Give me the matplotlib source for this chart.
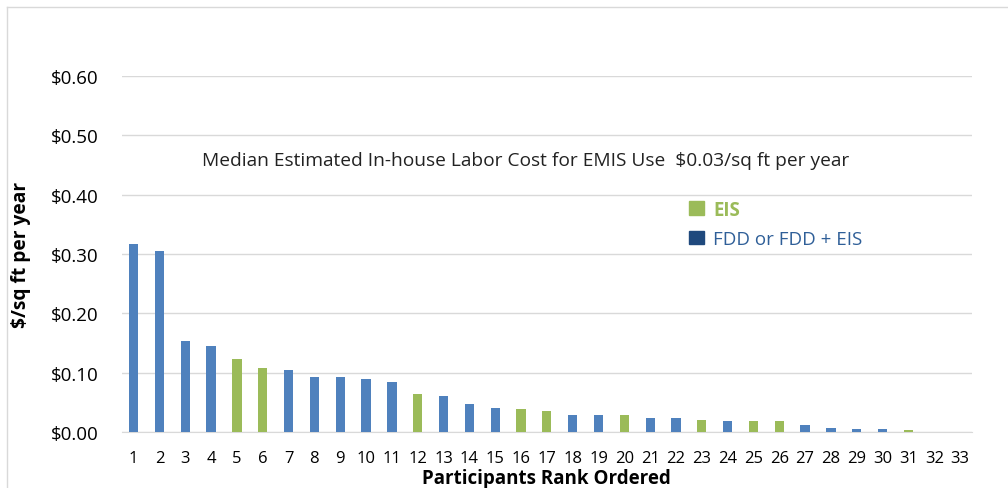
import numpy as np
import matplotlib.pyplot as plt
from matplotlib.patches import Patch
from matplotlib.lines import Line2D

plt.rcParams['font.family'] = ['Open Sans', 'DejaVu Sans']

# participants rank ordered, cost in $/sq ft per year
ranks = list(range(1, 34))
cost = [0.317, 0.305, 0.153, 0.145, 0.123, 0.108, 0.104, 0.093, 0.093, 0.089,
        0.084, 0.064, 0.061, 0.047, 0.040, 0.039, 0.036, 0.029, 0.028, 0.028,
        0.024, 0.024, 0.020, 0.018, 0.018, 0.018, 0.012, 0.006, 0.005, 0.005,
        0.004, 0.0, 0.0]
eis_ranks = [5, 6, 12, 16, 17, 20, 23, 25, 26, 31]
yticks = [0.0, 0.1, 0.2, 0.3, 0.4, 0.5, 0.6]

blue = '#4F81BD'
green = '#9BBB59'
dark_blue = '#1F497D'
colors = [green if r in eis_ranks else blue for r in ranks]

fig = plt.figure(figsize=(10.08, 4.89), dpi=100)
ax = fig.add_axes([0.121, 0.1145, 0.843, 0.728])

ax.bar(ranks, cost, width=0.36, color=colors, zorder=3)

ax.set_xlim(0.55, 33.45)
ax.set_ylim(0, 0.6)
ax.set_yticks(yticks)
ax.set_yticklabels(['$%.2f' % v for v in yticks], fontsize=13.5)
ax.set_xticks(ranks)
ax.set_xticklabels([str(r) for r in ranks], fontsize=12)
ax.grid(axis='y', color='#D9D9D9', linewidth=1, zorder=0)
for s in ax.spines.values():
    s.set_visible(False)
ax.spines['bottom'].set_visible(True)
ax.spines['bottom'].set_color('#D9D9D9')
ax.tick_params(length=0)
ax.tick_params(axis='x', pad=13)
ax.tick_params(axis='y', pad=17)

ax.set_ylabel('$/sq ft per year', fontsize=13.8, fontweight='bold', labelpad=14)
ax.set_xlabel('Participants Rank Ordered', fontsize=13.5, fontweight='bold', labelpad=1.5)

ax.text(0.475, 0.765, 'Median Estimated In-house Labor Cost for EMIS Use  $0.03/sq ft per year',
        transform=ax.transAxes, ha='center', va='center', fontsize=13.8, color='#222222')

handles = [Patch(color=green, label='EIS'), Patch(color=dark_blue, label='FDD or FDD + EIS')]
leg = ax.legend(handles=handles, loc='upper left', bbox_to_anchor=(0.648, 0.7),
                frameon=False, fontsize=13.5, handlelength=0.75, handleheight=0.75,
                handletextpad=0.5, labelspacing=0.55)
leg.get_texts()[0].set_color(green)
leg.get_texts()[0].set_fontweight('bold')
leg.get_texts()[1].set_color('#2F5F98')

fig.add_artist(Line2D([0.007, 0.007], [0, 0.984], color='#D9D9D9', lw=1, transform=fig.transFigure))
fig.add_artist(Line2D([0.007, 1], [0.984, 0.984], color='#D9D9D9', lw=1, transform=fig.transFigure))

fig.savefig('out.png', dpi=100)
